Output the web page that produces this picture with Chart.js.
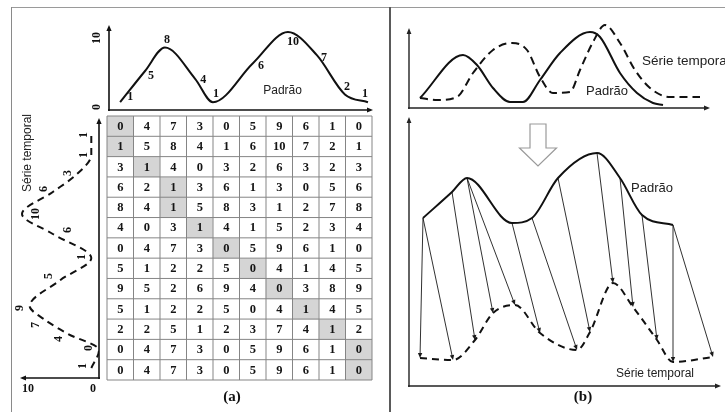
<!DOCTYPE html>
<html lang="pt">
<head>
<meta charset="utf-8">
<title>DTW - Padrão e Série temporal</title>
<script src="https://cdn.jsdelivr.net/npm/chart.js@4.4.1/dist/chart.umd.min.js"></script>
<style>
 html,body{margin:0;padding:0;background:#fff;}
 #stage{position:relative;width:725px;height:412px;overflow:hidden;background:#fff;}
 #stage canvas{position:absolute;}
 .rule{position:absolute;}
 .cap{position:absolute;font:bold 15px "Liberation Serif",serif;color:#111;transform:translate(-50%,-50%);white-space:nowrap;}
</style>
</head>
<body>
<div id="stage">
 <div class="rule" style="left:11px;top:7px;width:714px;height:1px;background:#9a9a9a"></div>
 <div class="rule" style="left:11px;top:7px;width:1px;height:405px;background:#8a8a8a"></div>
 <div class="rule" style="left:389px;top:7px;width:2px;height:405px;background:#5a5a5a"></div>
 <canvas id="cTopA"></canvas>
 <canvas id="cLeftA"></canvas>
 <canvas id="cGrid"></canvas>
 <canvas id="cTopB"></canvas>
 <canvas id="cBotB"></canvas>
 <div class="cap" style="left:232px;top:396px">(a)</div>
 <div class="cap" style="left:583px;top:396px">(b)</div>
</div>
<script>
// ================= DADOS =================
const colunas = ['1','2','3','4','5','6','7','8','9','10'];
const padrao = [1, 5, 8, 4, 1, 6, 10, 7, 2, 1];
const padraoTempo = [0.42, 1.36, 2.11, 3.25, 3.92, 5.43, 6.75, 7.85, 8.9, 9.77];
const serieTemporal = [1, 0, 4, 7, 9, 5, 1, 6, 10, 6, 3, 1, 1];
const serieTempo = [0.5, 1.4, 2.2, 2.9, 3.6, 4.9, 6.0, 7.2, 8.2, 9.3, 10.15, 11.15, 12.15];

// matriz de custos (linhas de cima para baixo)
const custoL01 = [0, 4, 7, 3, 0, 5, 9, 6, 1, 0];
const custoL02 = [1, 5, 8, 4, 1, 6, 10, 7, 2, 1];
const custoL03 = [3, 1, 4, 0, 3, 2, 6, 3, 2, 3];
const custoL04 = [6, 2, 1, 3, 6, 1, 3, 0, 5, 6];
const custoL05 = [8, 4, 1, 5, 8, 3, 1, 2, 7, 8];
const custoL06 = [4, 0, 3, 1, 4, 1, 5, 2, 3, 4];
const custoL07 = [0, 4, 7, 3, 0, 5, 9, 6, 1, 0];
const custoL08 = [5, 1, 2, 2, 5, 0, 4, 1, 4, 5];
const custoL09 = [9, 5, 2, 6, 9, 4, 0, 3, 8, 9];
const custoL10 = [5, 1, 2, 2, 5, 0, 4, 1, 4, 5];
const custoL11 = [2, 2, 5, 1, 2, 3, 7, 4, 1, 2];
const custoL12 = [0, 4, 7, 3, 0, 5, 9, 6, 1, 0];
const custoL13 = [0, 4, 7, 3, 0, 5, 9, 6, 1, 0];
const custoLinhas = [custoL01, custoL02, custoL03, custoL04, custoL05, custoL06, custoL07,
                     custoL08, custoL09, custoL10, custoL11, custoL12, custoL13];
// caminho de alinhamento: coluna do padrão para cada linha / ponto da série
const caminho = [0, 0, 1, 2, 2, 3, 4, 5, 6, 7, 8, 9, 9];

// (b) gráfico superior (curvas sem alinhamento)
const padraoTopoT = [1.1, 5.4, 6.8, 8.4, 10.1, 11.4, 13.1, 15.1, 18.1, 19.1, 21.1, 22.8, 24.4, 25.4];
const padraoTopoV = [1.0, 5.3, 4.3, 2.0, 0.6, 0.6, 2.8, 5.5, 7.6, 7.1, 3.5, 1.5, 0.5, 0.3];
const serieTopoT = [1.1, 2.8, 4.8, 6.4, 8.4, 10.3, 11.8, 13.1, 14.4, 16.1, 17.1, 18.4, 19.6, 21.1, 22.6, 24.1, 26.1, 29.1];
const serieTopoV = [1.0, 0.8, 1.1, 3.5, 5.8, 6.5, 5.8, 3.1, 1.5, 1.6, 3.8, 6.6, 8.3, 6.5, 3.8, 2.0, 1.1, 1.1];
// (b) gráfico inferior (curvas alinhadas)
const padraoAlinT = [1.4, 4.3, 5.8, 10.3, 12.3, 14.9, 18.8, 21.1, 23.3, 26.4];
const padraoAlinV = [16.8, 19.4, 20.8, 16.3, 16.8, 20.8, 23.3, 20.8, 17.1, 16.1];
const serieAlinT = [1.1, 4.4, 6.6, 8.4, 10.6, 13.1, 16.8, 18.1, 20.4, 22.4, 24.8, 26.4, 30.4];
const serieAlinV = [2.8, 2.6, 4.6, 7.3, 8.1, 5.3, 3.6, 5.4, 10.3, 7.9, 4.6, 2.4, 2.9];

// ================= ESTILO =================
const INK = '#111';
const NUM_FONT = 'bold 12px "Liberation Serif", serif';
const GRID_FONT = 'bold 12.5px "Liberation Serif", serif';
const SANS = '"Liberation Sans", Arial, sans-serif';
const rotPadrao = [[10,-5],[6,5],[2,-8],[8,1],[3,-8],[8,3],[5,10],[7,2],[2,-7],[-3,-8]];
const rotSerie = [[-8,-2],[-10,-2],[-9,5],[-9,5],[-10,2],[-12,-4],[-9,-1],[15,-4],[14,0],[-9,-3],[-8,-2],[-7,0],[-7,0]];

function seta(ctx, x1, y1, x2, y2, cor, larg, L, H) {
  const a = Math.atan2(y2 - y1, x2 - x1);
  ctx.save();
  ctx.strokeStyle = cor; ctx.fillStyle = cor; ctx.lineWidth = larg; ctx.setLineDash([]);
  ctx.beginPath(); ctx.moveTo(x1, y1);
  ctx.lineTo(x2 - Math.cos(a) * L * 0.6, y2 - Math.sin(a) * L * 0.6); ctx.stroke();
  ctx.beginPath(); ctx.moveTo(x2, y2);
  ctx.lineTo(x2 - L * Math.cos(a) + H * Math.sin(a), y2 - L * Math.sin(a) - H * Math.cos(a));
  ctx.lineTo(x2 - L * Math.cos(a) - H * Math.sin(a), y2 - L * Math.sin(a) + H * Math.cos(a));
  ctx.closePath(); ctx.fill();
  ctx.restore();
}
function texto(ctx, s, x, y, font, rot, align, cor) {
  ctx.save();
  ctx.font = font; ctx.fillStyle = cor || INK;
  ctx.textAlign = align || 'center'; ctx.textBaseline = 'middle';
  ctx.translate(x, y); if (rot) ctx.rotate(rot);
  ctx.fillText(s, 0, 0);
  ctx.restore();
}
function criar(id, caixa, pad, type, data, scales, plugin, extra) {
  const cv = document.getElementById(id);
  cv.width = caixa.w; cv.height = caixa.h;
  cv.style.left = caixa.x + 'px'; cv.style.top = caixa.y + 'px';
  cv.style.width = caixa.w + 'px'; cv.style.height = caixa.h + 'px';
  const options = Object.assign({
    responsive: false, maintainAspectRatio: false, animation: false, devicePixelRatio: 1, events: [],
    layout: { padding: pad }, scales: scales,
    plugins: { legend: { display: false }, tooltip: { enabled: false }, title: { display: false } }
  }, extra || {});
  return new Chart(cv, { type: type, data: data, options: options, plugins: [plugin] });
}
const linha = (cor, larg, dash) => ({ borderColor: cor, borderWidth: larg, borderDash: dash || [], pointRadius: 0,
  cubicInterpolationMode: 'monotone', fill: false, borderCapStyle: 'butt' });

// ================= (a) Padrão (topo) =================
criar('cTopA', {x: 80, y: 15, w: 300, h: 107}, {left: 29, right: 7, top: 5, bottom: 12}, 'line',
  { datasets: [Object.assign({ data: padrao.map((v, i) => ({x: padraoTempo[i], y: v})) }, linha(INK, 2))] },
  { x: {type: 'linear', display: false, min: 0, max: 9.96}, y: {type: 'linear', display: false, min: 0, max: 11.54} },
  { id: 'decTopA',
    beforeDatasetsDraw(ch) {
      const c = ch.ctx, xs = ch.scales.x, ys = ch.scales.y;
      const x0 = xs.getPixelForValue(0), y0 = ys.getPixelForValue(0);
      seta(c, x0, y0 + 1, x0, ys.getPixelForValue(10.9), INK, 1.6, 6, 2.6);
      seta(c, x0 - 1, y0, xs.getPixelForValue(9.96), y0, INK, 1.6, 6, 2.6);
      texto(c, '10', x0 - 12, ys.getPixelForValue(10) + 6, NUM_FONT, -Math.PI / 2);
      texto(c, '0', x0 - 12, y0 - 3, NUM_FONT, -Math.PI / 2);
    },
    afterDatasetsDraw(ch) {
      const c = ch.ctx, xs = ch.scales.x, ys = ch.scales.y;
      padrao.forEach((v, i) => {
        texto(c, String(v), xs.getPixelForValue(padraoTempo[i]) + rotPadrao[i][0],
              ys.getPixelForValue(v) + rotPadrao[i][1], NUM_FONT);
      });
      texto(c, 'Padrão', xs.getPixelForValue(6.55), ys.getPixelForValue(2.44), '12px ' + SANS, 0, 'center', '#222');
    }
  });

// ================= (a) Série temporal (esquerda, vertical) =================
criar('cLeftA', {x: 10, y: 105, w: 96, h: 295}, {left: 10, right: 7, top: 13, bottom: 22}, 'line',
  { datasets: [Object.assign({ data: serieTemporal.map((v, i) => ({x: v, y: serieTempo[i]})) }, linha(INK, 2, [7, 5]))] },
  { x: {type: 'linear', display: false, min: 0, max: 10.26, reverse: true}, y: {type: 'linear', display: false, min: 0, max: 13} },
  { id: 'decLeftA',
    beforeDatasetsDraw(ch) {
      const c = ch.ctx, xs = ch.scales.x, ys = ch.scales.y;
      const x0 = xs.getPixelForValue(0), y0 = ys.getPixelForValue(0);
      seta(c, x0, y0 + 1, x0, ys.getPixelForValue(13), INK, 1.6, 6, 2.6);
      seta(c, x0 + 1, y0, xs.getPixelForValue(10.26), y0, INK, 1.6, 6, 2.6);
      texto(c, '10', xs.getPixelForValue(10) + 6, y0 + 11, NUM_FONT);
      texto(c, '0', x0 - 6, y0 + 11, NUM_FONT);
    },
    afterDatasetsDraw(ch) {
      const c = ch.ctx, xs = ch.scales.x, ys = ch.scales.y;
      serieTemporal.forEach((v, i) => {
        texto(c, String(v), xs.getPixelForValue(v) + rotSerie[i][0],
              ys.getPixelForValue(serieTempo[i]) + rotSerie[i][1], NUM_FONT, -Math.PI / 2);
      });
      texto(c, 'Série temporal', xs.getPixelForValue(9.22), ys.getPixelForValue(11.25), '12px ' + SANS, -Math.PI / 2, 'center', '#222');
    }
  }, { indexAxis: 'y' });

// ================= (a) Matriz de custos =================
criar('cGrid', {x: 100, y: 112, w: 280, h: 273}, {left: 7, right: 8, top: 4, bottom: 5}, 'bar',
  { labels: colunas,
    datasets: custoLinhas.map((row, i) => ({
      data: row.map(() => 1),
      backgroundColor: row.map((_, j) => caminho[i] === j ? '#d5d5d5' : '#ffffff'),
      borderWidth: 0, barPercentage: 1, categoryPercentage: 1, stack: 'm'
    })) },
  { x: {display: false, stacked: true}, y: {display: false, stacked: true, min: 0, max: 13, reverse: true} },
  { id: 'decGrid',
    afterDatasetsDraw(ch) {
      const c = ch.ctx, xs = ch.scales.x, ys = ch.scales.y;
      c.save();
      c.strokeStyle = '#858585'; c.lineWidth = 1;
      const top = ys.getPixelForValue(0), bot = ys.getPixelForValue(13);
      const lef = xs.getPixelForValue(-0.5), rig = xs.getPixelForValue(9.5);
      for (let j = 0; j <= colunas.length; j++) {
        const x = xs.getPixelForValue(j - 0.5);
        c.beginPath(); c.moveTo(x, top); c.lineTo(x, bot); c.stroke();
      }
      for (let i = 0; i <= custoLinhas.length; i++) {
        const y = ys.getPixelForValue(i);
        c.beginPath(); c.moveTo(lef, y); c.lineTo(rig, y); c.stroke();
      }
      c.restore();
      custoLinhas.forEach((row, i) => {
        const meta = ch.getDatasetMeta(i);
        row.forEach((v, j) => {
          const el = meta.data[j];
          texto(c, String(v), el.x, (el.y + el.base) / 2 + 0.5, GRID_FONT, 0, 'center', '#151515');
        });
      });
    }
  });

// ================= (b) topo =================
criar('cTopB', {x: 395, y: 10, w: 330, h: 105}, {left: 14, right: 15, top: 8, bottom: 7}, 'line',
  { datasets: [
      Object.assign({ data: padraoTopoV.map((v, i) => ({x: padraoTopoT[i], y: v})) }, linha(INK, 2)),
      Object.assign({ data: serieTopoV.map((v, i) => ({x: serieTopoT[i], y: v})) }, linha(INK, 2, [8, 5]))
    ] },
  { x: {type: 'linear', display: false, min: 0, max: 30.1}, y: {type: 'linear', display: false, min: 0, max: 9.0} },
  { id: 'decTopB',
    beforeDatasetsDraw(ch) {
      const c = ch.ctx, xs = ch.scales.x, ys = ch.scales.y;
      const x0 = xs.getPixelForValue(0), y0 = ys.getPixelForValue(0);
      seta(c, x0, y0 + 1, x0, ys.getPixelForValue(8.0), '#222', 1.4, 6, 2.4);
      seta(c, x0 - 1, y0, xs.getPixelForValue(30.1), y0, '#222', 1.4, 6, 2.4);
    },
    afterDatasetsDraw(ch) {
      const c = ch.ctx, xs = ch.scales.x, ys = ch.scales.y;
      texto(c, 'Série temporal', xs.getPixelForValue(23.3), ys.getPixelForValue(4.7), '13.5px ' + SANS, 0, 'left', '#222');
      texto(c, 'Padrão', xs.getPixelForValue(19.8), ys.getPixelForValue(1.7), '13px ' + SANS, 0, 'center', '#222');
    }
  });

// ================= (b) inferior: alinhamento =================
criar('cBotB', {x: 395, y: 112, w: 330, h: 288}, {left: 14, right: 4, top: 5, bottom: 14}, 'line',
  { datasets: [
      Object.assign({ data: padraoAlinV.map((v, i) => ({x: padraoAlinT[i], y: v})) }, linha(INK, 2)),
      Object.assign({ data: serieAlinV.map((v, i) => ({x: serieAlinT[i], y: v})) }, linha(INK, 2, [7, 5]))
    ] },
  { x: {type: 'linear', display: false, min: 0, max: 31.2}, y: {type: 'linear', display: false, min: 0, max: 26.9} },
  { id: 'decBotB',
    beforeDatasetsDraw(ch) {
      const c = ch.ctx, xs = ch.scales.x, ys = ch.scales.y;
      const x0 = xs.getPixelForValue(0), y0 = ys.getPixelForValue(0);
      seta(c, x0, y0 + 1, x0, ys.getPixelForValue(26.9), '#222', 1.4, 6, 2.4);
      seta(c, x0 - 1, y0, xs.getPixelForValue(31.2), y0, '#222', 1.4, 6, 2.4);
      // seta vazada (transformação)
      const cx = xs.getPixelForValue(12.9);
      const hs = xs.getPixelForValue(12.9 + 0.8) - cx, hh = xs.getPixelForValue(12.9 + 1.85) - cx;
      const yt = ys.getPixelForValue(26.2), ym = ys.getPixelForValue(23.8), yp = ys.getPixelForValue(22.0);
      c.save();
      c.beginPath();
      c.moveTo(cx - hs, yt); c.lineTo(cx + hs, yt); c.lineTo(cx + hs, ym); c.lineTo(cx + hh, ym);
      c.lineTo(cx, yp); c.lineTo(cx - hh, ym); c.lineTo(cx - hs, ym); c.closePath();
      c.fillStyle = '#fff'; c.fill(); c.strokeStyle = '#9a9a9a'; c.lineWidth = 1.2; c.stroke();
      c.restore();
      // ligações do alinhamento
      caminho.forEach((col, k) => {
        seta(c, xs.getPixelForValue(padraoAlinT[col]), ys.getPixelForValue(padraoAlinV[col]),
             xs.getPixelForValue(serieAlinT[k]), ys.getPixelForValue(serieAlinV[k]), '#1a1a1a', 0.9, 5, 2.2);
      });
    },
    afterDatasetsDraw(ch) {
      const c = ch.ctx, xs = ch.scales.x, ys = ch.scales.y;
      texto(c, 'Padrão', xs.getPixelForValue(24.3), ys.getPixelForValue(19.8), '13px ' + SANS, 0, 'center', '#222');
      texto(c, 'Série temporal', xs.getPixelForValue(24.6), ys.getPixelForValue(1.2), '12px ' + SANS, 0, 'center', '#222');
    }
  });
</script>
</body>
</html>
